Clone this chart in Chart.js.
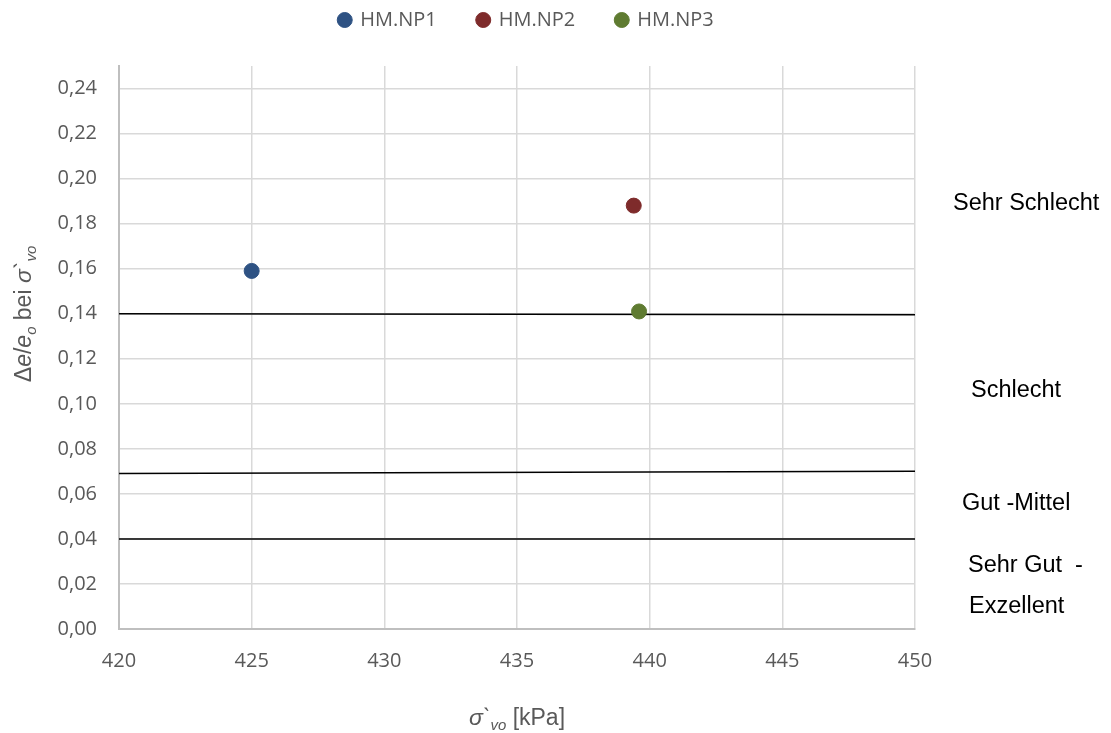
<!DOCTYPE html>
<html>
<head>
<meta charset="utf-8">
<script src="https://cdn.jsdelivr.net/npm/chart.js@4.4.0/dist/chart.umd.min.js"></script>
<style>
  html, body { margin: 0; padding: 0; background: #fff; }
  #wrap { width: 1111px; height: 733px; }
</style>
</head>
<body>
<div id="wrap"><canvas id="chart" width="1111" height="733"></canvas></div>
<script>
// measured samples
const seriesNames = ['HM.NP1', 'HM.NP2', 'HM.NP3'];
const seriesColors = ['#2e5283', '#7e2b2b', '#5f7b31'];
const stressValues = [425.0, 439.4, 439.6];
const ratioValues = [0.159, 0.188, 0.141];

// class limits (value at 420 and at 450 kPa)
const limitX = [420, 450];
const limitStart = [0.140, 0.069, 0.040];
const limitEnd = [0.1395, 0.070, 0.040];

// axis ticks
const xTickValues = [420, 425, 430, 435, 440, 445, 450];
const yTickValues = [0, 0.02, 0.04, 0.06, 0.08, 0.10, 0.12, 0.14, 0.16, 0.18, 0.20, 0.22, 0.24];

// class names on the right
const zoneLabels = ['Sehr Schlecht', 'Schlecht', 'Gut -Mittel', 'Sehr Gut  -', 'Exzellent'];

const tickColor = '#595959';
const gridColor = '#d9d9d9';
const axisColor = '#bfbfbf';

// where the class names sit (y in axis units, dx from plot right edge)
const zoneLayout = [
  { at: 0.189, dx: 38 },
  { at: 0.106, dx: 56 },
  { at: 0.0555, dx: 47 },
  { at: 0.0284, dx: 53 },
  { at: 0.0102, dx: 54 }
];

const datasets = seriesNames.map(function(name, i) {
  return {
    label: name,
    data: [{ x: stressValues[i], y: ratioValues[i] }],
    backgroundColor: seriesColors[i],
    borderColor: seriesColors[i],
    pointRadius: 7.5,
    pointHoverRadius: 7.5,
    showLine: false
  };
});

limitStart.forEach(function(v, i) {
  datasets.push({
    label: 'limit' + i,
    data: [{ x: limitX[0], y: v }, { x: limitX[1], y: limitEnd[i] }],
    showLine: true,
    borderColor: '#000000',
    borderWidth: 1.5,
    pointRadius: 0,
    pointHoverRadius: 0,
    fill: false
  });
});

function drawRich(ctx, parts, size, x, y) {
  const fontFor = function(p) {
    return (p.italic ? 'italic ' : '') + (p.sub ? size * 0.65 : size) + 'px "Liberation Sans", Arial, sans-serif';
  };
  let total = 0;
  parts.forEach(function(p) {
    ctx.font = fontFor(p);
    p.w = ctx.measureText(p.t).width;
    total += p.w;
  });
  let cx = x - total / 2;
  parts.forEach(function(p) {
    ctx.font = fontFor(p);
    ctx.fillText(p.t, cx, y + (p.sub ? size * 0.22 : 0));
    cx += p.w;
  });
}

const textPlugin = {
  id: 'textPlugin',
  afterDraw: function(chart) {
    const ctx = chart.ctx;
    const area = chart.chartArea;
    const yScale = chart.scales.y;
    ctx.save();
    ctx.textAlign = 'left';
    ctx.textBaseline = 'alphabetic';

    // x title
    ctx.fillStyle = tickColor;
    drawRich(ctx, [
      { t: 'σ`', italic: true },
      { t: 'vo', italic: true, sub: true },
      { t: ' [kPa]' }
    ], 23, (area.left + area.right) / 2, 725);

    // y title
    ctx.save();
    ctx.translate(31, 314);
    ctx.rotate(-Math.PI / 2);
    drawRich(ctx, [
      { t: 'Δ' },
      { t: 'e', italic: true },
      { t: '/' },
      { t: 'e', italic: true },
      { t: 'o', italic: true, sub: true },
      { t: ' bei ' },
      { t: 'σ`', italic: true },
      { t: 'vo', italic: true, sub: true }
    ], 23, 0, 0);
    ctx.restore();

    // class names
    ctx.fillStyle = '#000000';
    ctx.font = '23.5px "Liberation Sans", Arial, sans-serif';
    ctx.textBaseline = 'middle';
    zoneLabels.forEach(function(txt, i) {
      const pos = zoneLayout[i];
      ctx.fillText(txt, area.right + pos.dx, yScale.getPixelForValue(pos.at));
    });
    ctx.restore();
  }
};

const ctx = document.getElementById('chart').getContext('2d');
const chart = new Chart(ctx, {
  type: 'scatter',
  data: { datasets: datasets },
  plugins: [textPlugin],
  options: {
    responsive: false,
    animation: false,
    layout: { padding: { top: -31, left: 0, right: 58, bottom: 0 } },
    plugins: {
      tooltip: { enabled: false },
      legend: {
        position: 'top',
        labels: {
          usePointStyle: true,
          pointStyle: 'circle',
          boxWidth: 11,
          boxHeight: 10.6,
          padding: 41,
          color: tickColor,
          font: { family: 'Open Sans', size: 20 },
          filter: function(item) { return item.datasetIndex < seriesNames.length; }
        }
      }
    },
    scales: {
      x: {
        type: 'linear',
        min: 420,
        max: 450,
        ticks: { color: tickColor, padding: 20, font: { family: 'Open Sans', size: 20 } },
        afterBuildTicks: function(scale) {
          scale.ticks = xTickValues.map(function(v) { return { value: v }; });
        },
        grid: { color: gridColor, lineWidth: 1.5, drawTicks: false },
        border: { color: axisColor, width: 2 },
        afterFit: function(scale) { scale.height = 104; }
      },
      xtop: {
        type: 'linear',
        position: 'top',
        display: true,
        grid: { display: false },
        ticks: { display: false },
        border: { display: false },
        afterFit: function(scale) { scale.height = 26; }
      },
      y: {
        type: 'linear',
        min: 0,
        max: 0.25,
        ticks: {
          color: tickColor,
          padding: 22,
          font: { family: 'Open Sans', size: 20 },
          callback: function(v) { return v.toFixed(2).replace('.', ','); }
        },
        afterBuildTicks: function(scale) {
          scale.ticks = yTickValues.map(function(v) { return { value: v }; });
        },
        grid: { color: gridColor, lineWidth: 1.5, drawTicks: false },
        border: { color: axisColor, width: 2 },
        afterFit: function(scale) { scale.width = 119; }
      },
      yr: {
        type: 'linear',
        position: 'right',
        display: true,
        grid: { display: false },
        ticks: { display: false },
        border: { display: false },
        afterFit: function(scale) { scale.width = 138; }
      }
    }
  }
});
</script>
</body>
</html>
